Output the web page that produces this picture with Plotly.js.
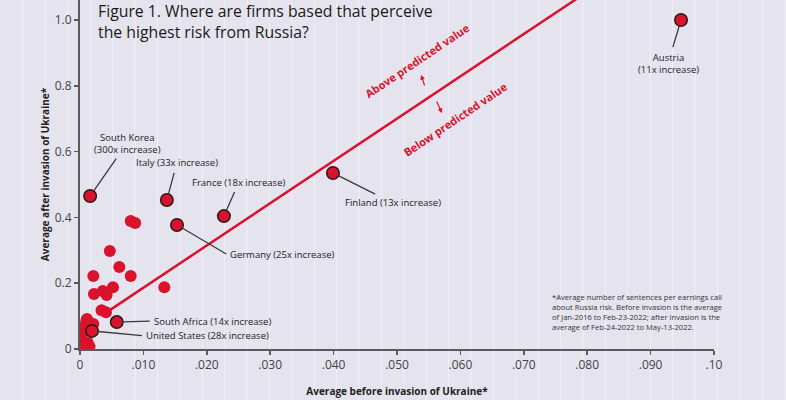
<!DOCTYPE html>
<html>
<head>
<meta charset="utf-8">
<script src="https://cdn.plot.ly/plotly-3.0.1.min.js"></script>
<style>html,body{margin:0;padding:0;background:#e5e3ee;}#chart{width:786px;height:400px;}</style>
</head>
<body>
<div id="chart"></div>
<script>
// Labelled countries: before invasion (x), after invasion (y)
const labelledNames = ["Austria", "Finland", "South Korea", "Italy", "France", "Germany", "South Africa", "United States"];
const labelledText = ["Austria<br>(11x increase)", "Finland (13x increase)", "South Korea<br>(300x increase)", "Italy (33x increase)", "France (18x increase)", "Germany (25x increase)", "South Africa (14x increase)", "United States (28x increase)"];
const labelledBefore = [0.0948, 0.0399, 0.0016, 0.0137, 0.0227, 0.0153, 0.0058, 0.0019];
const labelledAfter  = [1.000, 0.535, 0.465, 0.453, 0.404, 0.377, 0.082, 0.055];

// Other countries
const otherBefore = [0.0080, 0.0087, 0.0047, 0.0062, 0.0021, 0.0080, 0.0133, 0.0052, 0.0022, 0.0036, 0.0042, 0.0034, 0.0041, 0.0011, 0.0021,
                     0.0008, 0.0004, 0.0003, 0.0006, 0.0012, 0.0015, 0.0010, 0.0005, 0.0002];
const otherAfter  = [0.389, 0.383, 0.298, 0.249, 0.222, 0.222, 0.188, 0.188, 0.167, 0.176, 0.164, 0.118, 0.112, 0.091, 0.076,
                     0.070, 0.050, 0.030, 0.015, 0.020, 0.008, 0.085, 0.060, 0.040];

// Fitted (predicted value) line
const fitSlope = 12.85;
const fitIntercept = 0.0577;
const fitX = [0.0047, 0.085];

const xTickVals = [0, 0.01, 0.02, 0.03, 0.04, 0.05, 0.06, 0.07, 0.08, 0.09, 0.10];
const xTickText = ["0", ".010", ".020", ".030", ".040", ".050", ".060", ".070", ".080", ".090", ".10"];
const yTickVals = [0, 0.2, 0.4, 0.6, 0.8, 1.0];
const yTickText = ["0", "0.2", "0.4", "0.6", "0.8", "1.0"];

const footnote = "*Average number of sentences per earnings call<br>about Russia risk. Before invasion is the average<br>of Jan-2016 to Feb-23-2022; after invasion is the<br>average of Feb-24-2022 to May-13-2022.";

const RED = "#d8132b";
const FONT = "Open Sans, sans-serif";

const traces = [
  {
    x: fitX, y: fitX.map(v => fitIntercept + fitSlope * v),
    mode: "lines", line: {color: RED, width: 2.5}, hoverinfo: "skip", type: "scatter"
  },
  {
    x: otherBefore, y: otherAfter, mode: "markers", type: "scatter",
    marker: {color: RED, size: 12, line: {width: 0}}
  },
  {
    x: labelledBefore, y: labelledAfter, mode: "markers", type: "scatter", text: labelledNames,
    marker: {color: RED, size: 12.5, line: {width: 1.5, color: "#2a1a1c"}}
  }
];

// label placement offsets (pixels) for each labelled country
const labelOffsets = {
  "Austria": {ax: -13, ay: 43, xanchor: "center"},
  "Finland": {ax: 60, ay: 30, xanchor: "center"},
  "South Korea": {ax: 37, ay: -53, xanchor: "center"},
  "Italy": {ax: 10, ay: -37, xanchor: "center"},
  "France": {ax: 15, ay: -34, xanchor: "center"},
  "Germany": {ax: 51, ay: 30, xanchor: "left"},
  "South Africa": {ax: 35, ay: -1, xanchor: "left"},
  "United States": {ax: 52, ay: 5, xanchor: "left"}
};

const annotations = labelledNames.map((n, i) => Object.assign({
  x: labelledBefore[i], y: labelledAfter[i], xref: "x", yref: "y",
  text: labelledText[i], showarrow: true, arrowhead: 0, arrowwidth: 1.3, arrowcolor: "#3a3a3a",
  standoff: 6, startstandoff: 2, yanchor: "middle",
  font: {family: FONT, size: 9.5, color: "#222"}
}, labelOffsets[n]));

annotations.push(
  {x: 0.0532, y: 0.876, xref: "x", yref: "y", text: "<b>Above predicted value</b>", showarrow: false,
   textangle: -34, font: {family: FONT, size: 11, color: RED}},
  {x: 0.0591, y: 0.699, xref: "x", yref: "y", text: "<b>Below predicted value</b>", showarrow: false,
   textangle: -34, font: {family: FONT, size: 11, color: RED}},
  {x: 0.0538, y: 0.833, xref: "x", yref: "y", text: "", showarrow: true, arrowhead: 2, arrowsize: 0.8,
   arrowwidth: 1.2, arrowcolor: RED, ax: 4, ay: 12},
  {x: 0.0571, y: 0.717, xref: "x", yref: "y", text: "", showarrow: true, arrowhead: 2, arrowsize: 0.8,
   arrowwidth: 1.2, arrowcolor: RED, ax: -6, ay: -13},
  {x: 0.0741, y: 0.178, xref: "x", yref: "y", xanchor: "left", yanchor: "top", align: "left",
   text: footnote, showarrow: false, font: {family: FONT, size: 7.6, color: "#333"}},
  {x: 0.0025, y: 1.0, xref: "x", yref: "paper", xanchor: "left", yanchor: "top", align: "left", yshift: 2,
   text: "Figure 1. Where are firms based that perceive<br>the highest risk from Russia?", showarrow: false,
   font: {family: FONT, size: 15.8, color: "#1a1a1a"}}
);

// light vertical background stripes
const shapes = [];
for (let k = 0; k < 35; k++) {
  const px = 23 + 22.4 * k;
  shapes.push({type: "line", xref: "paper", yref: "paper", x0: (px - 80) / 634, x1: (px - 80) / 634,
    y0: -0.2, y1: 1.05, layer: "below", line: {color: "rgba(255,255,255,0.45)", width: 1}});
}

const layout = {
  width: 786, height: 400,
  margin: {l: 80, r: 72, t: 0, b: 51},
  paper_bgcolor: "#e5e3ee", plot_bgcolor: "rgba(0,0,0,0)",
  showlegend: false,
  xaxis: {
    range: [0, 0.1], tickvals: xTickVals, ticktext: xTickText, showgrid: false, zeroline: false,
    showline: true, linecolor: "#5a5a5a", linewidth: 2, ticks: "outside", ticklen: 4, tickwidth: 1.5, tickcolor: "#5a5a5a",
    tickfont: {family: FONT, size: 12, color: "#444"},
    title: {text: "<b>Average before invasion of Ukraine*</b>", font: {family: FONT, size: 10, color: "#222"}, standoff: 16}
  },
  yaxis: {
    range: [0, 1.0608], tickvals: yTickVals, ticktext: yTickText, showgrid: false, zeroline: false,
    showline: true, linecolor: "#5a5a5a", linewidth: 2, ticks: "outside", ticklen: 4, tickwidth: 1.5, tickcolor: "#5a5a5a",
    tickfont: {family: FONT, size: 12, color: "#444"},
    title: {text: "<b>Average after invasion of Ukraine*</b>", font: {family: FONT, size: 10, color: "#222"}, standoff: 3}
  },
  annotations: annotations,
  shapes: shapes
};

Plotly.newPlot("chart", traces, layout, {displayModeBar: false, staticPlot: true});
</script>
</body>
</html>
